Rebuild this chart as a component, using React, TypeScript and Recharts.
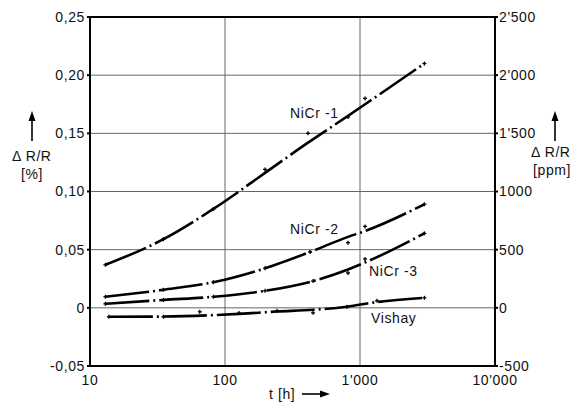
import React from 'react';
import {
  ComposedChart,
  Line,
  Scatter,
  XAxis,
  YAxis,
  CartesianGrid,
} from 'recharts';

// time axis (hours), log scale
const hoursTicks = [10, 100, 1000, 10000];
const hoursLabels: Record<number, string> = { 10: '10', 100: '100', 1000: "1'000", 10000: "10'000" };
const pctTicks = [-0.05, 0, 0.05, 0.1, 0.15, 0.2, 0.25];
const ppmTicks = [-500, 0, 500, 1000, 1500, 2000, 2500];
const ppmLabels: Record<string, string> = {
  '-500': '-500', '0': '0', '500': '500', '1000': '1000', '1500': "1'500", '2000': "2'000", '2500': "2'500",
};

// fitted curves
const nicr1Hours = [13, 35, 82, 198, 412, 815, 1090, 3000];
const nicr1Curve = [0.037, 0.059, 0.085, 0.116, 0.142, 0.165, 0.175, 0.21];
const nicr2Hours = [13, 35, 82, 198, 426, 815, 1090, 3000];
const nicr2Curve = [0.0095, 0.0155, 0.022, 0.034, 0.048, 0.061, 0.066, 0.089];
const nicr3Hours = [13, 35, 82, 198, 449, 815, 1090, 3000];
const nicr3Curve = [0.0034, 0.0068, 0.0095, 0.0146, 0.023, 0.033, 0.039, 0.064];
const vishayHours = [13.8, 35, 127, 243, 449, 800, 1336, 3000];
const vishayCurve = [-0.0077, -0.0075, -0.0052, -0.0032, -0.0017, 0.001, 0.005, 0.0086];

// measured points (small crosses)
const nicr1Meas = [0.037, 0.059, 0.085, 0.119, 0.15, 0.164, 0.18, 0.21];
const nicr2Meas = [0.0095, 0.0155, 0.022, 0.034, 0.048, 0.056, 0.07, 0.089];
const nicr3Meas = [0.0034, 0.0068, 0.0095, 0.0146, 0.023, 0.03, 0.042, 0.064];
const vishayMeasHours = [13.8, 35, 65, 127, 243, 449, 800, 1336, 3000];
const vishayMeas = [-0.0077, -0.0077, -0.0034, -0.0045, -0.0026, -0.0043, 0.0009, 0.006, 0.0086];

const zip = (t: number[], v: number[]) => t.map((h, i) => ({ t: h, v: v[i] }));

const curves = [
  zip(nicr1Hours, nicr1Curve),
  zip(nicr2Hours, nicr2Curve),
  zip(nicr3Hours, nicr3Curve),
  zip(vishayHours, vishayCurve),
];
const measured = [
  ...zip(nicr1Hours, nicr1Meas),
  ...zip(nicr2Hours, nicr2Meas),
  ...zip(nicr3Hours, nicr3Meas),
  ...zip(vishayMeasHours, vishayMeas),
];
// invisible helper so the ppm axis gets drawn
const ppmAnchor = ppmTicks.map((p) => ({ t: 10, v: p }));

const font = '"Liberation Sans", Arial, sans-serif';

const Cross = (props: any) => {
  const { cx, cy } = props;
  if (cx == null || cy == null) return null;
  return (
    <g stroke="#000" strokeWidth={1.3}>
      <line x1={cx - 2} y1={cy} x2={cx + 2} y2={cy} />
      <line x1={cx} y1={cy - 2} x2={cx} y2={cy + 2} />
    </g>
  );
};

const label = (text: string, left: number, top: number, extra: any = {}) => (
  <div
    style={{
      position: 'absolute',
      left,
      top,
      fontFamily: font,
      fontSize: 14,
      letterSpacing: 0.6,
      color: '#111',
      whiteSpace: 'pre',
      lineHeight: '16px',
      ...extra,
    }}
  >
    {text}
  </div>
);

export default function App() {
  const tickStyle = { fontFamily: font, fontSize: 14, fill: '#111', letterSpacing: 0.6 };
  return (
    <div style={{ position: 'absolute', left: 0, top: 0, width: 588, height: 404, background: '#fff' }}>
      <ComposedChart width={588} height={404} margin={{ top: 17, right: 0, bottom: 0, left: 0 }}>
        <CartesianGrid yAxisId="pct" stroke="#666" strokeWidth={1} vertical horizontal />
        <XAxis
          dataKey="t"
          type="number"
          scale="log"
          domain={[10, 10000]}
          ticks={hoursTicks}
          tickFormatter={(v: number) => hoursLabels[v] ?? String(v)}
          allowDataOverflow
          height={38}
          stroke="#000"
          strokeWidth={2}
          tickSize={0}
          tickMargin={9}
          tick={tickStyle}
        />
        <YAxis
          yAxisId="pct"
          type="number"
          domain={[-0.05, 0.25]}
          ticks={pctTicks}
          tickFormatter={(v: number) => (v === 0 ? '0' : v.toFixed(2).replace('.', ','))}
          width={90}
          stroke="#000"
          strokeWidth={2}
          tickSize={3}
          tickMargin={2}
          tick={tickStyle}
          allowDataOverflow
        />
        <YAxis
          yAxisId="ppm"
          orientation="right"
          type="number"
          domain={[-500, 2500]}
          ticks={ppmTicks}
          tickFormatter={(v: number) => ppmLabels[String(v)] ?? String(v)}
          width={93}
          stroke="#000"
          strokeWidth={2}
          tickSize={3}
          tickMargin={1}
          tick={tickStyle}
          allowDataOverflow
        />
        <Line
          yAxisId="ppm"
          data={ppmAnchor}
          dataKey="v"
          stroke="none"
          dot={false}
          activeDot={false}
          isAnimationActive={false}
        />
        {curves.map((d, i) => (
          <Line
            key={i}
            yAxisId="pct"
            data={d}
            dataKey="v"
            type="monotone"
            stroke="#000"
            strokeWidth={2.6}
            strokeDasharray="44 4 2 4"
            dot={false}
            activeDot={false}
            isAnimationActive={false}
          />
        ))}
        <Scatter
          yAxisId="pct"
          data={measured}
          dataKey="v"
          shape={<Cross />}
          isAnimationActive={false}
        />
      </ComposedChart>

      {/* top frame line */}
      <div style={{ position: 'absolute', left: 90, top: 16, width: 405, height: 2, background: '#000' }} />

      <svg style={{ position: 'absolute', left: 0, top: 0 }} width={588} height={404}>
        <g fill="#000" stroke="#000">
          <line x1={32} y1={141} x2={32} y2={118} strokeWidth={1.6} />
          <path d="M28.5,121 L32,111 L35.5,121 Z" stroke="none" />
          <line x1={555} y1={141} x2={555} y2={118} strokeWidth={1.6} />
          <path d="M551.5,121 L555,111 L558.5,121 Z" stroke="none" />
          <line x1={302} y1={394} x2={322} y2={394} strokeWidth={1.6} />
          <path d="M320,390.5 L330,394 L320,397.5 Z" stroke="none" />
        </g>
      </svg>
      {label('Δ R/R', 12, 148)}
      {label('[%]', 21, 166)}
      {label('Δ R/R', 531, 144)}
      {label('[ppm]', 533, 162)}
      {label('t [h]', 269, 386)}

      {label('NiCr -1', 290, 105)}
      {label('NiCr -2', 290, 221)}
      {label('NiCr -3', 369, 263)}
      {label('Vishay', 371, 310)}
    </div>
  );
}
